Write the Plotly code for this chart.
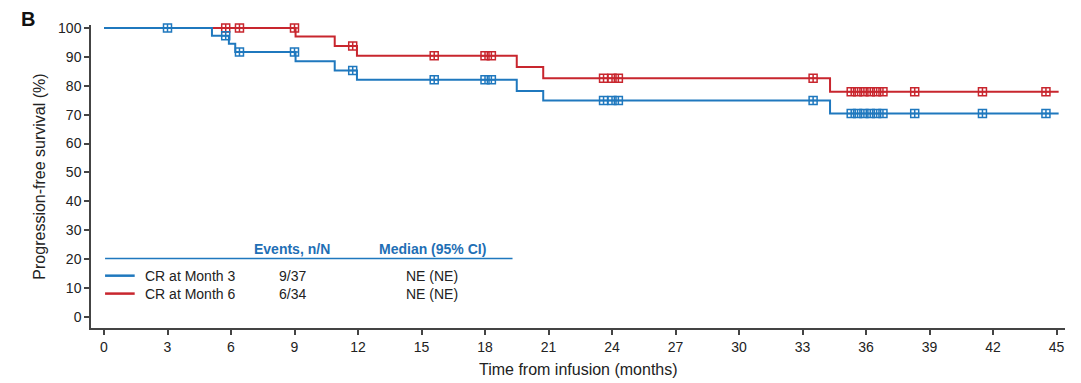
import plotly.graph_objects as go
import bisect

# ---- data ----
blue_name = "CR at Month 3"
red_name = "CR at Month 6"
blue_times = [0, 5.1, 5.9, 6.2, 9.05, 10.9, 11.95, 19.5, 20.75, 34.3, 45.1]
blue_surv = [100, 97.3, 94.5, 91.7, 88.5, 85.3, 82.1, 78.2, 74.9, 70.4, 70.4]
red_times = [0, 9.05, 10.9, 11.95, 19.5, 20.75, 34.3, 45.1]
red_surv = [100, 97.0, 93.7, 90.4, 86.5, 82.6, 77.9, 77.9]
blue_censor = [3, 5.75, 6.4, 9.0, 11.75, 15.6, 18.0, 18.3, 23.6, 24.0, 24.3, 33.5,
               35.3, 35.6, 35.9, 36.2, 36.5, 36.8, 38.3, 41.5, 44.5]
red_censor = [5.75, 6.4, 9.0, 11.75, 15.6, 18.0, 18.3, 23.6, 24.0, 24.3, 33.5,
              35.3, 35.6, 35.9, 36.2, 36.5, 36.8, 38.3, 41.5, 44.5]
events = ["9/37", "6/34"]
medians = ["NE (NE)", "NE (NE)"]
x_ticks = list(range(0, 46, 3))
y_ticks = list(range(0, 101, 10))
x_title = "Time from infusion (months)"
y_title = "Progression-free survival (%)"

BLUE = "#1f78be"
RED = "#c8262e"
HEAD = "#1f6fb5"


def step_at(times, surv, t):
    i = bisect.bisect_right(times, t) - 1
    return surv[max(i, 0)]


fig = go.Figure()
for name, times, surv, cens, col in [
    (red_name, red_times, red_surv, red_censor, RED),
    (blue_name, blue_times, blue_surv, blue_censor, BLUE),
]:
    fig.add_trace(go.Scatter(x=times, y=surv, mode="lines", line=dict(color=col, width=2, shape="hv"),
                             name=name, showlegend=False))
    fig.add_trace(go.Scatter(x=cens, y=[step_at(times, surv, t) for t in cens], mode="markers",
                             marker=dict(symbol="square-cross-open", size=8, color=col,
                                         line=dict(color=col, width=1.5)),
                             showlegend=False, cliponaxis=False))

font = "Liberation Sans, Arial, sans-serif"
TXT = 14
# legend table
fig.add_shape(type="line", x0=0.05, x1=19.3, y0=20.2, y1=20.2, xref="x", yref="y",
              line=dict(color=BLUE, width=1.5))
fig.add_annotation(x=8.9, y=23.6, text="<b>Events, n/N</b>", showarrow=False,
                   font=dict(color=HEAD, size=TXT, family=font))
fig.add_annotation(x=15.5, y=23.6, text="<b>Median (95% CI)</b>", showarrow=False,
                   font=dict(color=HEAD, size=TXT, family=font))
for i, (name, col, ev, med) in enumerate([(blue_name, BLUE, events[0], medians[0]),
                                          (red_name, RED, events[1], medians[1])]):
    yy = 14.3 - i * 6.2
    fig.add_shape(type="line", x0=0.05, x1=1.45, y0=yy, y1=yy, xref="x", yref="y",
                  line=dict(color=col, width=2.5))
    fig.add_annotation(x=1.85, y=yy, text=name, showarrow=False, xanchor="left",
                       font=dict(color="#222", size=TXT, family=font))
    fig.add_annotation(x=8.9, y=yy, text=ev, showarrow=False,
                       font=dict(color="#222", size=TXT, family=font))
    fig.add_annotation(x=15.5, y=yy, text=med, showarrow=False,
                       font=dict(color="#222", size=TXT, family=font))

fig.add_annotation(xref="paper", yref="paper", x=-0.0647, y=1.02, text="<b>B</b>", showarrow=False,
                   xanchor="center", yanchor="middle", font=dict(size=20, color="#111", family=font))
fig.add_annotation(xref="paper", yref="paper", x=0.5, y=-0.1386, text=x_title, showarrow=False,
                   xanchor="center", yanchor="middle", font=dict(size=16, color="#222", family=font))

axis_common = dict(showline=True, linecolor="#444", linewidth=1.5, ticks="outside", ticklen=5,
                   tickcolor="#444", tickwidth=1.5, showgrid=False, zeroline=False,
                   tickfont=dict(size=14, color="#222", family=font))
fig.update_xaxes(range=[-0.614, 45.4], tickvals=x_ticks, **axis_common)
fig.update_yaxes(range=[-3.8, 101], tickvals=y_ticks,
                 title=dict(text=y_title, font=dict(size=16, color="#222", family=font),
                            standoff=8), **axis_common)
fig.update_layout(width=1073, height=375, margin=dict(l=83, r=16, t=17, b=55),
                  plot_bgcolor="white", paper_bgcolor="white")
fig.write_html("out.html")
